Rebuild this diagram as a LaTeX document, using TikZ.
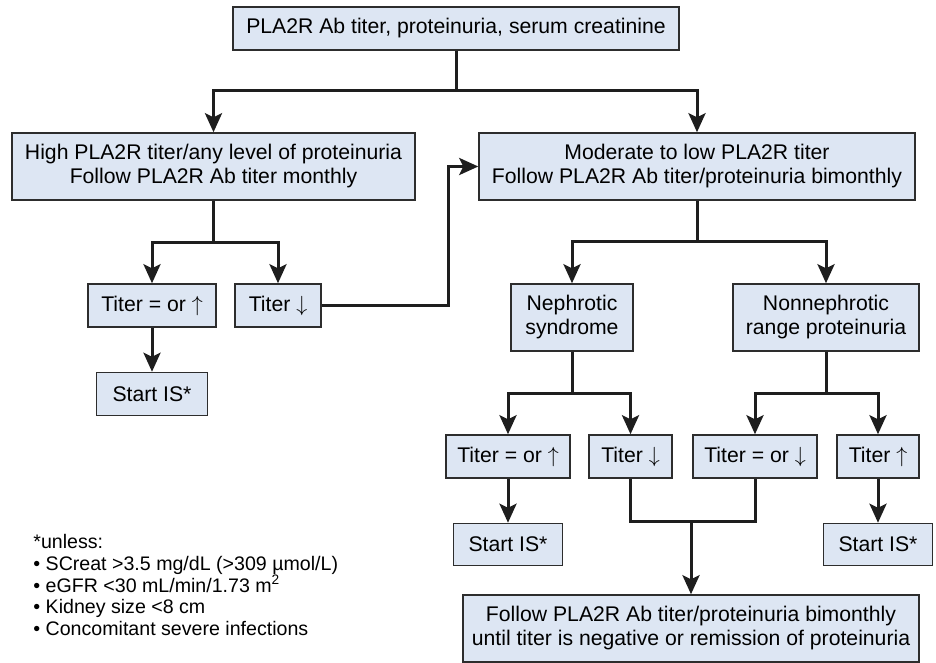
\documentclass[tikz,border=0pt]{standalone}
\usepackage{fontspec}
\setmainfont{Liberation Sans}
\usetikzlibrary{arrows.meta,positioning}
\definecolor{boxfill}{RGB}{221,230,243}
\definecolor{boxline}{RGB}{45,45,45}
\definecolor{linecol}{RGB}{30,30,30}
\tikzset{
  >={Stealth[length=9.5pt,width=8.5pt,inset=2pt]},
  box/.style={draw=boxline, fill=boxfill, line width=0.75pt, inner sep=0pt, align=center, minimum height=21.5pt},
  tallbox/.style={box, minimum height=33.5pt},
  wire/.style={draw=linecol, line width=1.5pt},
}
\begin{document}
\begin{tikzpicture}[x=0.5pt, y=-0.5pt, font=\fontsize{10.6}{12}\selectfont]
  \useasboundingbox (0,0) rectangle (936,663);

  \node[box, minimum width=223pt] (top) at (456,28.5) {PLA2R Ab titer, proteinuria, serum creatinine};
  \node[tallbox, minimum width=201.5pt] (high) at (213.5,166.5) {High PLA2R titer/any level of proteinuria\\Follow PLA2R Ab titer monthly};
  \node[tallbox, minimum width=218pt] (mod) at (697,166.5) {Moderate to low PLA2R titer\\Follow PLA2R Ab titer/proteinuria bimonthly};

  \node[box, minimum width=64pt] (t1) at (152,305.5) {Titer = or $\uparrow$};
  \node[box, minimum width=43pt] (t2) at (278,305.5) {Titer $\downarrow$};
  \node[box, minimum width=55.5pt, below=22pt of t1] (s1) {Start IS*};

  \node[tallbox, minimum width=61pt] (neph) at (572,317.5) {Nephrotic\\syndrome};
  \node[tallbox, minimum width=93pt] (nonneph) at (826,317.5) {Nonnephrotic\\range proteinuria};

  \node[box, minimum width=62pt] (t3) at (508,456.5) {Titer = or $\uparrow$};
  \node[box, minimum width=41.5pt] (t4) at (630.5,456.5) {Titer $\downarrow$};
  \node[box, minimum width=62pt] (t5) at (755,456.5) {Titer = or $\downarrow$};
  \node[box, minimum width=41pt] (t6) at (878,456.5) {Titer $\uparrow$};
  \node[box, minimum width=54.5pt, minimum height=21pt, below=22pt of t3] (s2) {Start IS*};
  \node[box, minimum width=54.5pt, minimum height=21pt, below=22pt of t6] (s3) {Start IS*};

  \node[tallbox, minimum width=228pt] (final) at (691,628.5) {Follow PLA2R Ab titer/proteinuria bimonthly\\until titer is negative or remission of proteinuria};

  \node[anchor=north west, align=left, inner sep=0pt, font=\fontsize{9.8}{10.85}\selectfont] (note) at (33,534)
    {*unless:\\• SCreat >3.5 mg/dL (>309 µmol/L)\\• eGFR <30 mL/min/1.73 m\textsuperscript{2}\\• Kidney size <8 cm\\• Concomitant severe infections};

  \draw[wire,->] (top.south) -- ++(0,40) -| (high.north);
  \draw[wire,->] (top.south) -- ++(0,40) -| (mod.north);

  \draw[wire,->] (high.south) -- ++(0,42) -| (t1.north);
  \draw[wire,->] (high.south) -- ++(0,42) -| (t2.north);
  \draw[wire,->] (t1.south) -- (s1.north);
  \draw[wire,->] (t2.east) -- ++(127,0) |- (mod.west);

  \draw[wire,->] (mod.south) -- ++(0,41) -| (neph.north);
  \draw[wire,->] (mod.south) -- ++(0,41) -| (nonneph.north);

  \draw[wire,->] (neph.south) -- ++(0,42) -| (t3.north);
  \draw[wire,->] (neph.south) -- ++(0,42) -| (t4.north);
  \draw[wire,->] (nonneph.south) -- ++(0,42) -| (t5.north);
  \draw[wire,->] (nonneph.south) -- ++(0,42) -| (t6.north);
  \draw[wire,->] (t3.south) -- (s2.north);
  \draw[wire,->] (t6.south) -- (s3.north);

  \draw[wire] (t4.south) -- ++(0,43) coordinate (m4) -| (t5.south);
  \draw[wire,->] (m4 -| final.north) -- (final.north);
\end{tikzpicture}
\end{document}
